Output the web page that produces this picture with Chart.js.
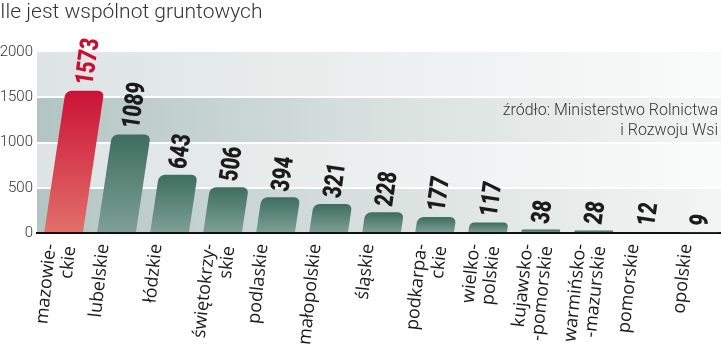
<!DOCTYPE html>
<html>
<head>
<meta charset="utf-8">
<script src="https://cdn.jsdelivr.net/npm/chart.js@4.4.1/dist/chart.umd.min.js"></script>
<style>
  html, body { margin: 0; padding: 0; background: #fff; overflow: hidden; }
  #wrap { width: 726px; height: 344px; }
</style>
</head>
<body>
<div id="wrap"><canvas id="chart" width="726" height="344"></canvas></div>
<script>
// dane
const regions = [
    ['mazowie-', 'ckie'], 'lubelskie', 'łódzkie', ['świętokrzy-', 'skie'], 'podlaskie',
    'małopolskie', 'śląskie', ['podkarpa-', 'ckie'], ['wielko-', 'polskie'],
    ['kujawsko-', '-pomorskie'], ['warmińsko-', '-mazurskie'], 'pomorskie', 'opolskie'
];
const counts = [1573, 1089, 643, 506, 394, 321, 228, 177, 117, 38, 28, 12, 9];
const yTicks = [0, 500, 1000, 1500, 2000];
const chartTitle = 'Ile jest wspólnot gruntowych';
const sourceLines = ['źródło: Ministerstwo Rolnictwa', 'i Rozwoju Wsi'];
const highlightIndex = 0;

const SKEW = 0.15;            // pochylenie słupków
const LABEL_ANGLE = -82;      // obrót etykiet wartości

function barFill(c) {
    const chart = c.chart;
    const red = c.dataIndex === highlightIndex;
    if (!chart.chartArea || !chart.scales.y) return red ? '#d02a3e' : '#5a8677';
    const top = chart.scales.y.getPixelForValue(c.raw);
    const base = chart.scales.y.getPixelForValue(0);
    const g = chart.ctx.createLinearGradient(0, top, 0, base + 0.01);
    if (red) {
        g.addColorStop(0, '#cb1236');
        g.addColorStop(1, '#e2706a');
    } else {
        g.addColorStop(0, '#3d6e5e');
        g.addColorStop(1, '#7fa096');
    }
    return g;
}

// tło w pasy
const bandsPlugin = {
    id: 'bands',
    beforeDraw(chart) {
        const { ctx, chartArea: a, scales: { y } } = chart;
        ctx.save();
        for (let i = 0; i < yTicks.length - 1; i++) {
            const y0 = y.getPixelForValue(yTicks[i]);
            const y1 = y.getPixelForValue(yTicks[i + 1]);
            const g = ctx.createLinearGradient(a.left, 0, a.right, 0);
            if (i % 2 === 0) {
                g.addColorStop(0, '#b2c5c2');
                g.addColorStop(0.5, '#d9e1df');
                g.addColorStop(1, '#f3f5f4');
            } else {
                g.addColorStop(0, '#dde4e3');
                g.addColorStop(1, '#fafbfb');
            }
            ctx.fillStyle = g;
            ctx.fillRect(a.left, y1, a.right - a.left, y0 - y1);
        }
        ctx.restore();
    }
};

// pochylenie słupków + etykiety wartości
const skewPlugin = {
    id: 'skew',
    beforeDatasetsDraw(chart) {
        const base = chart.scales.y.getPixelForValue(0);
        chart.ctx.save();
        chart.ctx.transform(1, 0, -SKEW, 1, SKEW * base, 0);
    },
    afterDatasetsDraw(chart) {
        chart.ctx.restore();
        const { ctx } = chart;
        const base = chart.scales.y.getPixelForValue(0);
        const meta = chart.getDatasetMeta(0);
        ctx.save();
        ctx.font = '900 26px Roboto, "Liberation Sans", sans-serif';
        ctx.textAlign = 'left';
        ctx.textBaseline = 'middle';
        meta.data.forEach((bar, i) => {
            const x = bar.x + SKEW * (base - bar.y);
            ctx.save();
            ctx.translate(x + 1, bar.y - 6);
            ctx.rotate(LABEL_ANGLE * Math.PI / 180);
            ctx.scale(0.77, 1);
            ctx.fillStyle = i === highlightIndex ? '#c8102e' : '#1b1b1b';
            ctx.fillText(String(counts[i]), 0, 0);
            ctx.restore();
        });
        ctx.restore();
    }
};

const sourcePlugin = {
    id: 'source',
    afterDraw(chart) {
        const { ctx } = chart;
        ctx.save();
        ctx.font = '300 16px Roboto, sans-serif';
        ctx.fillStyle = '#333';
        ctx.textAlign = 'right';
        ctx.textBaseline = 'middle';
        ctx.fillText(sourceLines[0], 718, 111);
        ctx.fillText(sourceLines[1], 718, 131);
        ctx.restore();
    }
};

new Chart(document.getElementById('chart'), {
    type: 'bar',
    data: {
        labels: regions,
        datasets: [{
            data: counts,
            backgroundColor: barFill,
            borderRadius: { topLeft: 6, topRight: 6 },
            borderSkipped: 'start',
            barPercentage: 0.73,
            categoryPercentage: 1,
            clip: false
        }]
    },
    plugins: [bandsPlugin, skewPlugin, sourcePlugin],
    options: {
        responsive: false,
        animation: false,
        layout: { padding: 0 },
        plugins: {
            legend: { display: false },
            tooltip: { enabled: false },
            title: {
                display: true,
                text: chartTitle,
                align: 'start',
                color: '#333',
                font: { family: 'Roboto', size: 21, weight: '300', lineHeight: 1.2 },
                padding: { top: 0, bottom: 26.8 }
            }
        },
        scales: {
            x: {
                grid: { display: false },
                border: { display: true, color: '#111', width: 2 },
                ticks: {
                    autoSkip: false,
                    minRotation: 84,
                    maxRotation: 84,
                    padding: 2,
                    labelOffset: -13,
                    color: '#1a1a1a',
                    font: { family: '"Open Sans"', size: 18, lineHeight: 1.1 }
                },
                afterFit(scale) { scale.height = 111; }
            },
            y: {
                min: 0,
                max: 2000,
                afterBuildTicks(scale) { scale.ticks = yTicks.map(v => ({ value: v })); },
                grid: {
                    color: c => (c.tick.value === 0 || c.tick.value === 2000) ? 'rgba(0,0,0,0)' : '#ffffff',
                    lineWidth: 2,
                    drawTicks: false
                },
                border: { display: false },
                ticks: {
                    padding: 4,
                    color: '#333',
                    font: { family: 'Roboto', size: 15, weight: '300' },
                    callback: v => String(v)
                },
                afterFit(scale) { scale.width = 37; }
            }
        }
    }
});
</script>
</body>
</html>
